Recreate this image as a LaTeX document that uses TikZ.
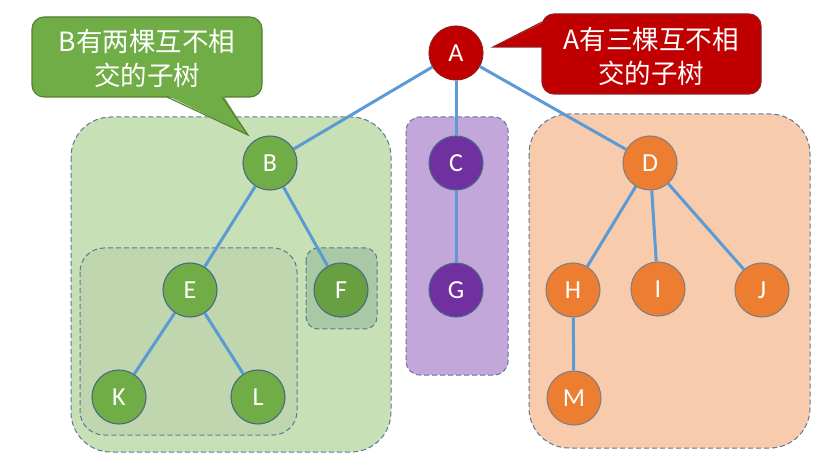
\documentclass[tikz,border=0pt]{standalone}
\usepackage{fontspec}
\setmainfont{Carlito}
\newfontfamily\cjk{Noto Sans CJK SC}
\definecolor{edgeblue}{HTML}{5B9BD5}
\definecolor{nred}{HTML}{C00000}
\definecolor{ngreen}{HTML}{70AD47}
\definecolor{npurple}{HTML}{7030A0}
\definecolor{norange}{HTML}{ED7D31}
\definecolor{nborder}{HTML}{4A6A84}
\definecolor{boxgreen}{HTML}{C7E0B5}
\definecolor{boxgreenin}{HTML}{BFD6AE}
\definecolor{boxf}{HTML}{A9C8A4}
\definecolor{boxpurple}{HTML}{C3A7DA}
\definecolor{boxorange}{HTML}{F8CBAD}
\definecolor{dashc}{HTML}{5A7A95}
\definecolor{callgreenb}{HTML}{507E32}
\definecolor{callredb}{HTML}{8F1F1F}
\tikzset{
  tnode/.style={circle, minimum size=54pt, inner sep=0pt, fill=#1, draw=nborder, line width=1.1pt, text=white, font=\fontsize{26}{30}\selectfont},
  subbox/.style={fill=#1, draw=dashc, line width=1pt, dash pattern=on 5pt off 3pt},
  tedge/.style={draw=edgeblue, line width=3pt},
  calltext/.style={text=white, align=center, font=\cjk\fontsize{26.5}{34}\selectfont, inner sep=0pt}
}
\begin{document}
\begin{tikzpicture}[x=1pt,y=-1pt]
\useasboundingbox (0,0) rectangle (828,473);
\fill[white] (0,0) rectangle (828,473);
% subtree boxes
\draw[subbox=boxgreen, rounded corners=40pt] (71,117) rectangle (391,452);
\draw[subbox=boxgreenin, rounded corners=24pt] (80,248) rectangle (297,435);
\draw[subbox=boxf, rounded corners=12pt] (306,248) rectangle (377,329);
\draw[subbox=boxpurple, rounded corners=14pt] (406,117) rectangle (508,375);
\draw[subbox=boxorange, rounded corners=40pt] (529,114) rectangle (810,448);
% nodes
\node[tnode=nred, draw=callredb] (A) at (456,53) {A};
\node[tnode=ngreen] (B) at (270,163) {B};
\node[tnode=npurple] (C) at (456,163) {C};
\node[tnode=norange, draw=gray] (D) at (650,163) {D};
\node[tnode=ngreen] (E) at (190,290) {E};
\node[tnode=ngreen!92!black] (F) at (341,290) {F};
\node[tnode=npurple] (G) at (456,290) {G};
\node[tnode=norange, draw=gray] (H) at (573,290) {H};
\node[tnode=norange, draw=gray] (I) at (658,289) {I};
\node[tnode=norange, draw=gray] (J) at (762,290) {J};
\node[tnode=ngreen] (K) at (119,397) {K};
\node[tnode=ngreen] (L) at (258,397) {L};
\node[tnode=norange, draw=gray] (M) at (574,398) {M};
% edges
\foreach \p/\c in {A/B,A/C,A/D,B/E,B/F,E/K,E/L,C/G,D/H,D/I,D/J,H/M}
  \draw[tedge] (\p) -- (\c);
% green callout
\draw[fill=ngreen, draw=callgreenb, line width=1.1pt, rounded corners=12pt] (32,17) rectangle (262,97);
\fill[ngreen] (166,95) -- (248,135) -- (223,95) -- cycle;
\draw[callgreenb, line width=1.1pt, line join=miter] (167,97) -- (248,135) -- (222,97);
\node[calltext] (cg) at (147,58) {B有两棵互不相\\交的子树};
% red callout
\draw[fill=nred, draw=callredb, line width=1.1pt, rounded corners=12pt] (542,14) rectangle (761,94);
\fill[nred] (544,22) -- (493,47) -- (544,47) -- cycle;
\draw[callredb, line width=1.1pt, line join=miter] (542,22) -- (493,47) -- (542,47);
\node[calltext] (cr) at (651,56) {A有三棵互不相\\交的子树};
\end{tikzpicture}
\end{document}
